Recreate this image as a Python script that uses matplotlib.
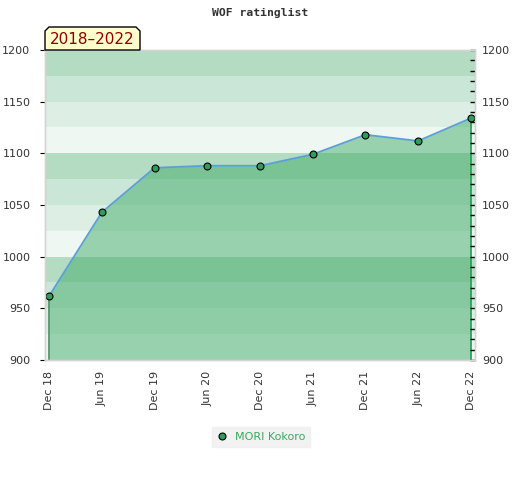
import matplotlib
matplotlib.use("Agg")
import matplotlib.pyplot as plt
from matplotlib.patches import Polygon
from matplotlib.ticker import MultipleLocator
from matplotlib.lines import Line2D

# ---- data ----
periods = ["Dec 18", "Jun 19", "Dec 19", "Jun 20", "Dec 20", "Jun 21", "Dec 21", "Jun 22", "Dec 22"]
ratings = [962, 1043, 1086, 1088, 1088, 1099, 1118, 1112, 1134]
player = "MORI Kokoro"
title = "WOF ratinglist"
range_label = "2018\u20132022"
y_min, y_max = 900, 1200

W, H = 520, 480
fig = plt.figure(figsize=(W / 100, H / 100), dpi=100)
ax = fig.add_axes([45 / W, 1 - 360 / H, 430 / W, 310 / H])

x = list(range(len(periods)))

# background bands (pattern repeating every 100 points)
band_cols = ["#b3dcc3", "#cae6d6", "#ddefe4", "#eff7f2"]
i = 0
for top in range(y_max, y_min, -25):
    ax.axhspan(top - 25, top, color=band_cols[i % 4], lw=0, zorder=0)
    i += 1

ax.fill_between(x, ratings, y_min, color="#43ac69", alpha=0.5, lw=0, zorder=1)
ax.plot([x[0], x[0]], [y_min, ratings[0]], color="#4a8f62", lw=1.2, zorder=2)
ax.plot([x[-1], x[-1]], [y_min, ratings[-1]], color="#22a04b", lw=1.2, zorder=2)
ax.plot(x, ratings, color="#5a9fd8", lw=1.3, zorder=3)
ax.plot(x, ratings, ls="none", marker="o", ms=5.0, mfc="#2e9c5a", mec="black",
        mew=0.8, zorder=4)

ax.set_xlim(-0.08, len(periods) - 1 + 0.08)
ax.set_ylim(y_min, y_max)
ax.set_xticks(x)
ax.set_xticklabels(periods, rotation=90, fontsize=8, color="#333333")
ax.tick_params(axis="x", length=0, pad=8)

ax.yaxis.set_major_locator(MultipleLocator(50))
ax.tick_params(axis="y", which="both", left=False, right=False, labelleft=True,
               labelright=False, labelsize=8, labelcolor="#333333", pad=7)

ax2 = ax.twinx()
ax2.set_ylim(y_min, y_max)
ax2.yaxis.set_major_locator(MultipleLocator(50))
ax2.yaxis.set_minor_locator(MultipleLocator(10))
ax2.tick_params(axis="y", which="major", left=False, right=True, labelleft=False,
                labelright=True, direction="in", length=3.5, width=1,
                color="black", labelsize=8, labelcolor="#333333", pad=5)
ax2.tick_params(axis="y", which="minor", left=False, right=True, direction="in",
                length=3.5, width=1, color="black")

for a in (ax, ax2):
    for s in a.spines.values():
        s.set_color("#d4d4d4")
        s.set_linewidth(1)

# title
fig.text(260 / W, 1 - 13 / H, title, family="DejaVu Sans Mono", weight="bold",
         fontsize=8.2, color="#333333", ha="center", va="center")

# range label box with cut top corners
x0, x1, y0, y1, c = 45, 140, 50, 27, 4
pts = [(x0, y0), (x0, y1 + c), (x0 + c, y1), (x1 - c, y1), (x1, y1 + c), (x1, y0)]
pts = [(px / W, 1 - py / H) for px, py in pts]
fig.patches.append(Polygon(pts, closed=True, facecolor="#ffffcc", edgecolor="black",
                           lw=1, transform=fig.transFigure, zorder=5))
fig.text((x0 + x1) / 2 / W, 1 - 40 / H, range_label, fontsize=11, color="#8b0000",
         ha="center", va="center", zorder=6)

# legend
handle = Line2D([], [], ls="none", marker="o", ms=5.0, mfc="#2e9c5a", mec="black", mew=0.8)
leg = fig.legend([handle], [player], loc="center", bbox_to_anchor=(261 / W, 1 - 436.5 / H),
                 frameon=True, fancybox=False, fontsize=8, handlelength=1,
                 handletextpad=0.6, borderpad=0.45)
leg.get_frame().set_facecolor("#efefef")
leg.get_frame().set_edgecolor("#efefef")
for t in leg.get_texts():
    t.set_color("#3aa860")

fig.savefig("out.png", dpi=100)
